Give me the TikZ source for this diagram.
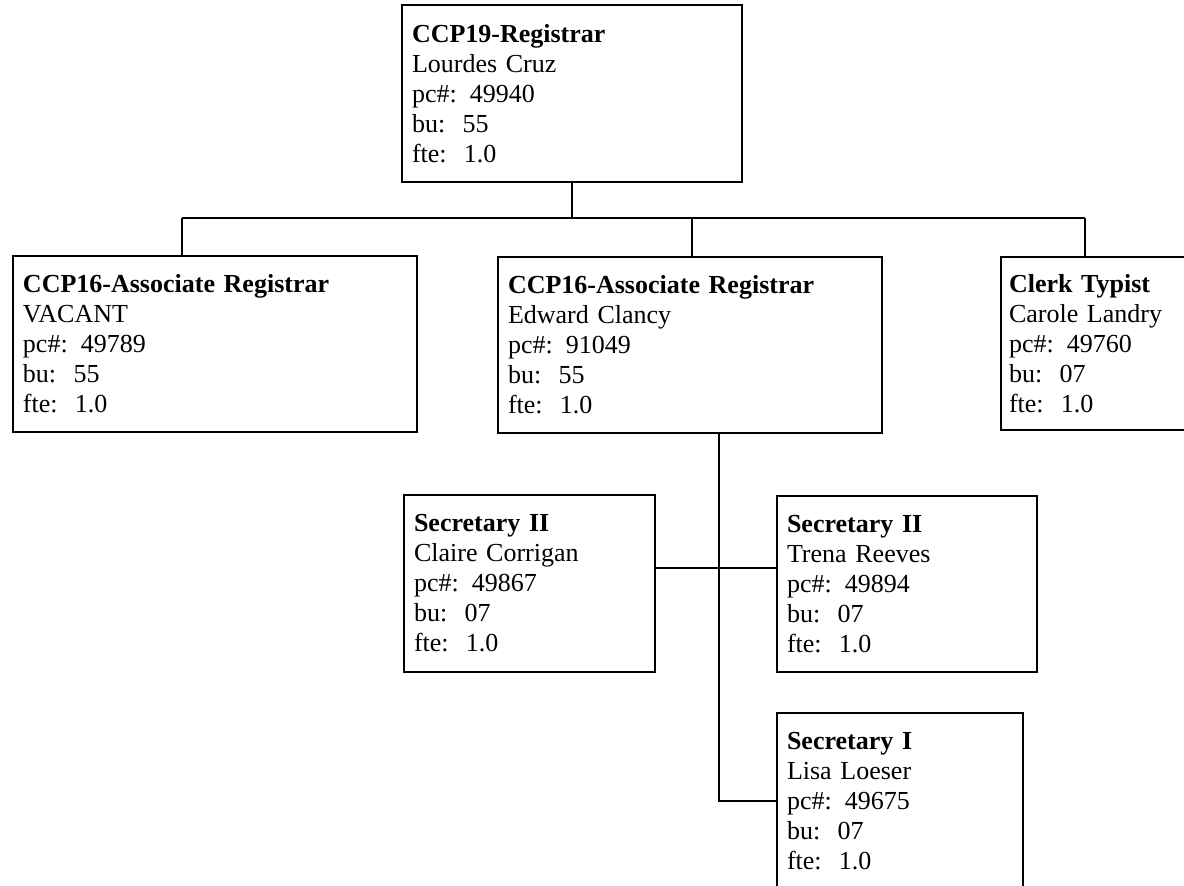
\documentclass[tikz,border=0pt]{standalone}
\usepackage{fontspec}
\setmainfont{Liberation Serif}
\begin{document}
\begin{tikzpicture}[x=1pt,y=-1pt,
  box/.style={draw, line width=1.4pt, rectangle, align=left, anchor=center,
    inner xsep=10pt, inner ysep=0pt,
    font=\fontsize{26}{30}\selectfont},
  wire/.style={line width=1.3pt}]
\useasboundingbox (0,0) rectangle (1184,886);

\node[box, minimum width=340pt, minimum height=177pt, text width=320pt] (top) at (572,93.5)
  {\textbf{CCP19-Registrar}\\Lourdes Cruz\\pc\#: 49940\\bu:~~55\\fte:~~1.0};
\node[box, minimum width=404pt, minimum height=176pt, text width=384pt] (a1) at (215,344)
  {\textbf{CCP16-Associate Registrar}\\VACANT\\pc\#: 49789\\bu:~~55\\fte:~~1.0};
\node[box, minimum width=384pt, minimum height=176pt, text width=364pt] (a2) at (690,345)
  {\textbf{CCP16-Associate Registrar}\\Edward Clancy\\pc\#: 91049\\bu:~~55\\fte:~~1.0};
\node[box, minimum width=260pt, minimum height=173pt, text width=244pt, inner xsep=6pt] (ct) at (1131,343.5)
  {\textbf{Clerk Typist}\\Carole Landry\\pc\#: 49760\\bu:~~07\\fte:~~1.0};
\node[box, minimum width=251pt, minimum height=177pt, text width=231pt] (s2l) at (529.5,583.5)
  {\textbf{Secretary II}\\Claire Corrigan\\pc\#: 49867\\bu:~~07\\fte:~~1.0};
\node[box, minimum width=260pt, minimum height=176pt, text width=240pt] (s2r) at (907,584)
  {\textbf{Secretary II}\\Trena Reeves\\pc\#: 49894\\bu:~~07\\fte:~~1.0};
\node[box, minimum width=246pt, minimum height=176pt, text width=226pt] (s1) at (900,801)
  {\textbf{Secretary I}\\Lisa Loeser\\pc\#: 49675\\bu:~~07\\fte:~~1.0};

\coordinate (busL) at (182,218);
\coordinate (busR) at (1085,218);
\coordinate (busM) at (692,218);
\coordinate (trunk) at (719,0);
\coordinate (lvl) at (0,568);

\draw[wire] (busL) -- (busR);
\draw[wire] (top.south) -- (top.south |- busL);
\draw[wire] (busL) -- (busL |- a1.north);
\draw[wire] (busM) -- (busM |- a2.north);
\draw[wire] (busR) -- (busR |- ct.north);
\draw[wire] (a2.south -| trunk) -- (trunk |- s1.west) -- (s1.west);
\draw[wire] (s2l.east |- lvl) -- (s2r.west |- lvl);
\end{tikzpicture}
\end{document}
